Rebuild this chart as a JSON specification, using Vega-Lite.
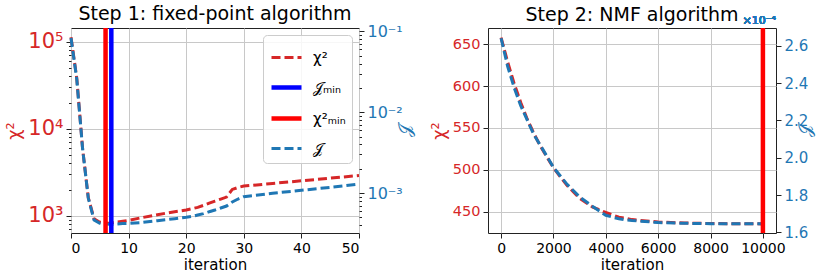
{
  "$schema": "https://vega.github.io/schema/vega-lite/v6.json",
  "background": "white",
  "padding": {"left": 5, "right": 5, "top": 4, "bottom": 0},
  "datasets": {
    "step1": [
      {"it": 0, "chi2": 112000, "J": 0.0826},
      {"it": 1, "chi2": 38100, "J": 0.0257},
      {"it": 2, "chi2": 6040, "J": 0.0036},
      {"it": 3, "chi2": 1618, "J": 0.000867},
      {"it": 4, "chi2": 931, "J": 0.000463},
      {"it": 5, "chi2": 849, "J": 0.000422},
      {"it": 6, "chi2": 828, "J": 0.000414},
      {"it": 7, "chi2": 832, "J": 0.00041},
      {"it": 8, "chi2": 850, "J": 0.000414},
      {"it": 9, "chi2": 870, "J": 0.000418},
      {"it": 10, "chi2": 891, "J": 0.000422},
      {"it": 12, "chi2": 948, "J": 0.00043},
      {"it": 15, "chi2": 1035, "J": 0.000455},
      {"it": 18, "chi2": 1119, "J": 0.000481},
      {"it": 20, "chi2": 1170, "J": 0.0005},
      {"it": 21, "chi2": 1211, "J": 0.000514},
      {"it": 22, "chi2": 1256, "J": 0.000534},
      {"it": 23, "chi2": 1323, "J": 0.000555},
      {"it": 24, "chi2": 1406, "J": 0.000587},
      {"it": 25, "chi2": 1483, "J": 0.000616},
      {"it": 26, "chi2": 1563, "J": 0.000652},
      {"it": 27, "chi2": 1648, "J": 0.00069},
      {"it": 28, "chi2": 2015, "J": 0.000774},
      {"it": 29, "chi2": 2124, "J": 0.000843},
      {"it": 30, "chi2": 2202, "J": 0.000901},
      {"it": 35, "chi2": 2360, "J": 0.000991},
      {"it": 40, "chi2": 2529, "J": 0.00108},
      {"it": 45, "chi2": 2716, "J": 0.001175},
      {"it": 50, "chi2": 2909, "J": 0.00129}
    ],
    "mins1": [
      {"it": 7, "name": "𝒥ₘᵢₙ"},
      {"it": 6, "name": "χ²ₘᵢₙ"}
    ],
    "step2": [
      {"it": 0, "chi2": 658, "J": 0.000264},
      {"it": 250, "chi2": 629, "J": 0.000249},
      {"it": 500, "chi2": 603, "J": 0.0002375},
      {"it": 750, "chi2": 580.5, "J": 0.0002279},
      {"it": 1000, "chi2": 560.5, "J": 0.0002201},
      {"it": 1250, "chi2": 543.6, "J": 0.0002124},
      {"it": 1500, "chi2": 528.4, "J": 0.0002067},
      {"it": 2000, "chi2": 502.4, "J": 0.0001948},
      {"it": 2500, "chi2": 482, "J": 0.0001861},
      {"it": 3000, "chi2": 466, "J": 0.000179},
      {"it": 3500, "chi2": 455.5, "J": 0.0001739},
      {"it": 4000, "chi2": 449, "J": 0.0001692},
      {"it": 4500, "chi2": 443.4, "J": 0.0001673},
      {"it": 5000, "chi2": 440.5, "J": 0.0001664},
      {"it": 6000, "chi2": 437.6, "J": 0.0001653},
      {"it": 7000, "chi2": 436.5, "J": 0.0001649},
      {"it": 8000, "chi2": 435.8, "J": 0.0001647},
      {"it": 9000, "chi2": 435.5, "J": 0.0001647},
      {"it": 10000, "chi2": 435.4, "J": 0.0001647}
    ],
    "mins2": [
      {"it": 10000, "name": "χ²ₘᵢₙ"}
    ]
  },
  "spacing": 14,
  "hconcat": [
    {
      "title": {"text": "Step 1: fixed-point algorithm", "offset": -1},
      "width": 288,
      "height": 205,
      "data": {"name": "step1"},
      "layer": [
        {
          "mark": {"type": "line", "strokeCap": "butt"},
          "encoding": {
            "x": {"field": "it", "type": "quantitative", "scale": {"domain": [0, 50], "nice": false, "zero": false},
                  "axis": {"values": [0, 10, 20, 30, 40, 50], "title": "iteration"}},
            "y": {"field": "chi2", "type": "quantitative",
                  "scale": {"type": "log", "domain": [638, 143000], "nice": false},
                  "axis": {"orient": "left",
                           "values": [700, 800, 900, 1000, 2000, 3000, 4000, 5000, 6000, 7000, 8000, 9000, 10000, 20000, 30000, 40000, 50000, 60000, 70000, 80000, 90000, 100000],
                           "labelExpr": "abs(datum.value-1000)<1 ? '10³' : abs(datum.value-10000)<1 ? '10⁴' : abs(datum.value-100000)<1 ? '10⁵' : ''",
                           "labelOverlap": false, "labelBound": false,
                           "labelColor": "#d62728", "labelFontSize": 21,
                           "tickSize": {"condition": {"test": "abs(log(datum.value)/LN10 - round(log(datum.value)/LN10)) < 0.001", "value": 5}, "value": 2.5},
                           "gridOpacity": {"condition": {"test": "abs(log(datum.value)/LN10 - round(log(datum.value)/LN10)) < 0.001", "value": 1}, "value": 0},
                           "title": "χ²", "titleColor": "#d62728", "titleFontSize": 18, "titlePadding": 4}},
            "color": {"datum": "χ²", "type": "nominal", "title": null,
                      "scale": {"domain": ["χ²", "𝒥ₘᵢₙ", "χ²ₘᵢₙ", "𝒥"], "range": ["#d62728", "#0000ff", "#ff0000", "#1f77b4"]}},
            "strokeDash": {"datum": "χ²", "type": "nominal", "title": null,
                           "scale": {"domain": ["χ²", "𝒥ₘᵢₙ", "χ²ₘᵢₙ", "𝒥"], "range": [[9, 4], [1, 0], [1, 0], [9, 4]]}},
            "strokeWidth": {"datum": "χ²", "type": "nominal", "title": null,
                            "scale": {"type": "ordinal", "domain": ["χ²", "𝒥ₘᵢₙ", "χ²ₘᵢₙ", "𝒥"], "range": [3, 4.5, 4.5, 3]}}
          }
        },
        {
          "mark": {"type": "line", "strokeCap": "butt"},
          "encoding": {
            "x": {"field": "it", "type": "quantitative"},
            "y": {"field": "J", "type": "quantitative",
                  "scale": {"type": "log", "domain": [0.00032, 0.11], "nice": false},
                  "axis": {"orient": "right", "grid": false,
                           "values": [0.0004, 0.0005, 0.0006, 0.0007, 0.0008, 0.0009, 0.001, 0.002, 0.003, 0.004, 0.005, 0.006, 0.007, 0.008, 0.009, 0.01, 0.02, 0.03, 0.04, 0.05, 0.06, 0.07, 0.08, 0.09, 0.1],
                           "labelExpr": "abs(log(datum.value)/LN10 + 3) < 0.001 ? '10⁻³' : abs(log(datum.value)/LN10 + 2) < 0.001 ? '10⁻²' : abs(log(datum.value)/LN10 + 1) < 0.001 ? '10⁻¹' : ''",
                           "labelOverlap": false, "labelBound": false,
                           "labelColor": "#1f77b4", "labelFontSize": 16,
                           "tickSize": {"condition": {"test": "abs(log(datum.value)/LN10 - round(log(datum.value)/LN10)) < 0.001", "value": 5}, "value": 2.5},
                           "title": "𝒥", "titleColor": "#1f77b4", "titleFontSize": 18, "titleAngle": -90, "titlePadding": 12}},
            "color": {"datum": "𝒥", "type": "nominal", "title": null,
                      "scale": {"domain": ["χ²", "𝒥ₘᵢₙ", "χ²ₘᵢₙ", "𝒥"], "range": ["#d62728", "#0000ff", "#ff0000", "#1f77b4"]}},
            "strokeDash": {"datum": "𝒥", "type": "nominal", "title": null,
                           "scale": {"domain": ["χ²", "𝒥ₘᵢₙ", "χ²ₘᵢₙ", "𝒥"], "range": [[9, 4], [1, 0], [1, 0], [9, 4]]}},
            "strokeWidth": {"datum": "𝒥", "type": "nominal", "title": null,
                            "scale": {"type": "ordinal", "domain": ["χ²", "𝒥ₘᵢₙ", "χ²ₘᵢₙ", "𝒥"], "range": [3, 4.5, 4.5, 3]}}
          }
        },
        {
          "data": {"name": "mins1"},
          "mark": {"type": "rule"},
          "encoding": {
            "x": {"field": "it", "type": "quantitative"},
            "color": {"field": "name", "type": "nominal", "title": null,
                      "scale": {"domain": ["χ²", "𝒥ₘᵢₙ", "χ²ₘᵢₙ", "𝒥"], "range": ["#d62728", "#0000ff", "#ff0000", "#1f77b4"]}},
            "strokeDash": {"field": "name", "type": "nominal", "title": null,
                           "scale": {"domain": ["χ²", "𝒥ₘᵢₙ", "χ²ₘᵢₙ", "𝒥"], "range": [[9, 4], [1, 0], [1, 0], [9, 4]]}},
            "strokeWidth": {"field": "name", "type": "nominal", "title": null,
                            "scale": {"type": "ordinal", "domain": ["χ²", "𝒥ₘᵢₙ", "χ²ₘᵢₙ", "𝒥"], "range": [3, 4.5, 4.5, 3]}}
          }
        }
      ],
      "resolve": {"scale": {"y": "independent"}}
    },
    {
      "title": {"text": "Step 2: NMF algorithm", "offset": -9.5},
      "width": 288,
      "height": 205,
      "data": {"name": "step2"},
      "layer": [
        {
          "mark": {"type": "line", "color": "#d62728", "strokeDash": [9, 4], "strokeWidth": 3, "strokeCap": "butt"},
          "encoding": {
            "x": {"field": "it", "type": "quantitative", "scale": {"domain": [-500, 10500], "nice": false, "zero": false},
                  "axis": {"values": [0, 2000, 4000, 6000, 8000, 10000], "format": "d", "title": "iteration"}},
            "y": {"field": "chi2", "type": "quantitative",
                  "scale": {"domain": [424.5, 669.5], "nice": false, "zero": false},
                  "axis": {"orient": "left", "values": [450, 500, 550, 600, 650],
                           "labelColor": "#d62728", "labelFontSize": 14.5,
                           "title": "χ²", "titleColor": "#d62728", "titleFontSize": 18, "titlePadding": 4}}
          }
        },
        {
          "layer": [
            {
              "mark": {"type": "line", "color": "#1f77b4", "strokeDash": [9, 4], "strokeWidth": 3, "strokeCap": "butt"},
              "encoding": {
                "x": {"field": "it", "type": "quantitative"},
                "y": {"field": "J", "type": "quantitative",
                      "scale": {"domain": [0.0001597, 0.0002695], "nice": false, "zero": false},
                      "axis": {"orient": "right", "grid": false,
                               "values": [0.00016, 0.00018, 0.0002, 0.00022, 0.00024, 0.00026],
                               "labelExpr": "format(datum.value*10000, '.1f')",
                               "labelColor": "#1f77b4", "labelFontSize": 15,
                               "title": "𝒥", "titleColor": "#1f77b4", "titleFontSize": 18, "titleAngle": -90, "titlePadding": 7}}
              }
            },
            {
              "mark": {"type": "text", "text": "×10⁻⁴", "align": "right", "baseline": "bottom", "dy": -2, "fontSize": 11, "color": "#1f77b4"},
              "encoding": {
                "x": {"datum": 10500, "type": "quantitative"},
                "y": {"datum": 0.0002695, "type": "quantitative"}
              }
            }
          ]
        },
        {
          "data": {"name": "mins2"},
          "mark": {"type": "rule", "color": "#ff0000", "strokeWidth": 4.5},
          "encoding": {
            "x": {"field": "it", "type": "quantitative"}
          }
        }
      ],
      "resolve": {"scale": {"y": "independent"}}
    }
  ],
  "resolve": {
    "scale": {"color": "independent", "strokeDash": "independent", "strokeWidth": "independent"},
    "legend": {"color": "independent", "strokeDash": "independent", "strokeWidth": "independent"}
  },
  "config": {
    "font": "DejaVu Sans",
    "view": {"stroke": "#222222", "strokeWidth": 1},
    "axis": {
      "domain": false,
      "grid": true,
      "gridColor": "#c8c8c8",
      "gridWidth": 1,
      "tickColor": "#222222",
      "tickSize": 5,
      "labelColor": "#000000",
      "labelFontSize": 14,
      "labelPadding": 3,
      "titleFontSize": 15,
      "titleFontWeight": "normal",
      "titleColor": "#000000",
      "titlePadding": 2
    },
    "title": {"fontSize": 19, "fontWeight": "normal", "color": "#000000"},
    "legend": {
      "orient": "top-right",
      "offset": 7,
      "symbolType": "stroke",
      "symbolSize": 900,
      "labelFontSize": 15,
      "labelFont": "DejaVu Sans",
      "labelColor": "#000000",
      "padding": 6,
      "rowPadding": 4,
      "labelOffset": 9,
      "fillColor": "rgba(255,255,255,0.85)",
      "strokeColor": "#cccccc",
      "cornerRadius": 4
    }
  }
}
